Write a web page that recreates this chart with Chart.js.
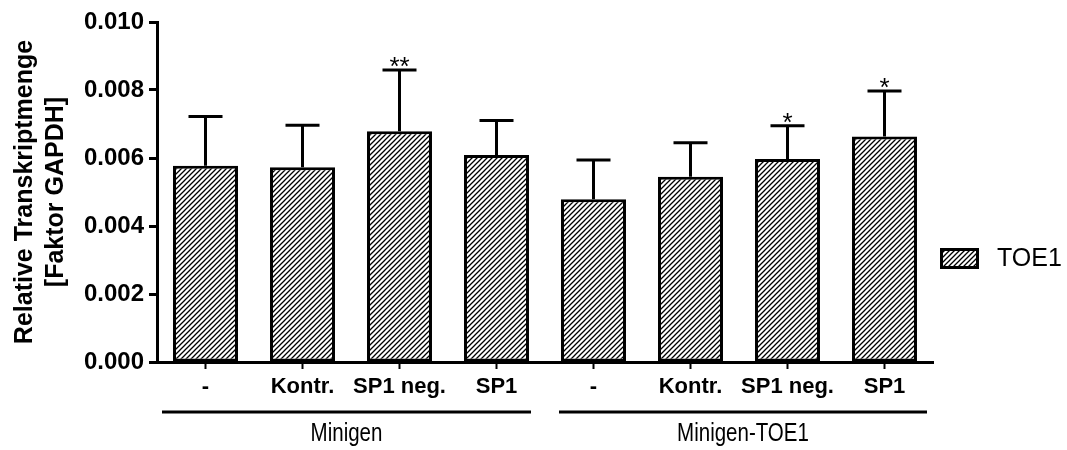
<!DOCTYPE html>
<html>
<head>
<meta charset="utf-8">
<script src="https://cdn.jsdelivr.net/npm/chart.js@4"></script>
<style>
  html, body { margin: 0; padding: 0; background: #fff; }
</style>
</head>
<body>
<canvas id="chart" width="1067" height="450"></canvas>
<script>
const categories = ['-', 'Kontr.', 'SP1 neg.', 'SP1', '-', 'Kontr.', 'SP1 neg.', 'SP1'];
const groups = ['Minigen', 'Minigen-TOE1'];
const seriesName = 'TOE1';
const means = [0.00577, 0.00573, 0.00679, 0.00609, 0.00479, 0.00545, 0.00597, 0.00663];
const errors = [0.00145, 0.00123, 0.00180, 0.00101, 0.00115, 0.00100, 0.00098, 0.00134];
const stars = ['', '', '**', '', '', '', '*', '*'];

const FONT = "'Liberation Sans', Arial, sans-serif";

// diagonal hatching "/"
function hatch() {
  const s = 5;
  const c = document.createElement('canvas');
  c.width = s; c.height = s;
  const g = c.getContext('2d');
  g.fillStyle = '#fff';
  g.fillRect(0, 0, s, s);
  g.strokeStyle = '#000';
  g.lineWidth = 1.3;
  g.beginPath();
  g.moveTo(0, s); g.lineTo(s, 0);
  g.moveTo(-1, 1); g.lineTo(1, -1);
  g.moveTo(s - 1, s + 1); g.lineTo(s + 1, s - 1);
  g.stroke();
  return g.createPattern(c, 'repeat');
}

const ctx0 = document.getElementById('chart').getContext('2d');
const pattern = hatch();

const extras = {
  id: 'extras',
  afterDatasetsDraw(chart) {
    const { ctx, scales: { y } } = chart;
    const meta = chart.getDatasetMeta(0);
    ctx.save();
    ctx.strokeStyle = '#000';
    ctx.fillStyle = '#000';
    ctx.lineWidth = 3;
    meta.data.forEach((bar, i) => {
      const top = y.getPixelForValue(means[i] + errors[i]);
      ctx.beginPath();
      ctx.moveTo(bar.x, bar.y);
      ctx.lineTo(bar.x, top);
      ctx.moveTo(bar.x - 17, top);
      ctx.lineTo(bar.x + 17, top);
      ctx.stroke();
      if (stars[i]) {
        ctx.font = '26px ' + FONT;
        ctx.textAlign = 'center';
        ctx.textBaseline = 'alphabetic';
        ctx.fillText(stars[i], bar.x, top + 5);
      }
    });
    ctx.restore();
  },
  afterDraw(chart) {
    const { ctx, scales: { x }, chartArea } = chart;
    const w = x.width / categories.length;
    const per = categories.length / groups.length;
    ctx.save();
    ctx.strokeStyle = '#000';
    ctx.fillStyle = '#000';
    ctx.lineWidth = 3;
    groups.forEach((name, g) => {
      const catL = x.getPixelForValue(g * per) - w / 2;
      const catR = x.getPixelForValue(g * per + per - 1) + w / 2;
      const l = g === 0 ? catL + 5 : catL + 14;
      const r = g === groups.length - 1 ? catR - 6 : catR - 14;
      ctx.beginPath();
      ctx.moveTo(l, 412);
      ctx.lineTo(r, 412);
      ctx.stroke();
      // condensed regular label
      ctx.save();
      ctx.translate((l + r) / 2, 434);
      ctx.scale(0.82, 1);
      ctx.font = '25px ' + FONT;
      ctx.textAlign = 'center';
      ctx.textBaseline = 'middle';
      ctx.fillText(name, 0, 0);
      ctx.restore();
    });
    // legend
    const lx = chartArea.right + 7, ly = 248;
    ctx.fillStyle = pattern;
    ctx.fillRect(lx, ly, 39, 21);
    ctx.lineWidth = 3;
    ctx.strokeRect(lx + 1.5, ly + 1.5, 36, 18);
    ctx.fillStyle = '#000';
    ctx.font = '25px ' + FONT;
    ctx.textAlign = 'left';
    ctx.textBaseline = 'middle';
    ctx.fillText(seriesName, lx + 57, ly + 11);
    ctx.restore();
  }
};

new Chart(ctx0, {
  type: 'bar',
  data: {
    labels: categories,
    datasets: [{
      label: seriesName,
      data: means,
      backgroundColor: pattern,
      borderColor: '#000',
      borderWidth: 3,
      borderSkipped: false,
      barPercentage: 0.67,
      categoryPercentage: 1.0,
    }],
  },
  options: {
    responsive: false,
    animation: false,
    layout: { padding: { top: 22, right: 134, bottom: 0, left: 0 } },
    plugins: {
      legend: { display: false },
      tooltip: { enabled: false },
    },
    scales: {
      x: {
        afterFit: (s) => { s.height = 88; },
        grid: {
          display: true,
          drawOnChartArea: false,
          offset: false,
          tickLength: 7,
          tickWidth: 2,
          tickColor: '#000',
        },
        border: { display: true, width: 3, color: '#000' },
        ticks: {
          color: '#000',
          padding: 5,
          maxRotation: 0,
          autoSkip: false,
          font: { family: FONT, size: 22, weight: 'bold' },
        },
      },
      y: {
        min: 0,
        max: 0.010,
        afterFit: (s) => { s.width = 157; },
        grid: {
          drawOnChartArea: false,
          tickLength: 8,
          tickWidth: 3,
          tickColor: '#000',
        },
        border: { display: true, width: 3, color: '#000' },
        ticks: {
          stepSize: 0.002,
          color: '#000',
          padding: 5,
          font: { family: FONT, size: 24, weight: 'bold' },
          callback: (v) => v.toFixed(3),
        },
        title: {
          display: true,
          text: ['Relative Transkriptmenge', '[Faktor GAPDH]'],
          color: '#000',
          padding: { top: 9, bottom: 0 },
          font: { family: FONT, size: 25, weight: 'bold', lineHeight: 1.25 },
        },
      },
    },
  },
  plugins: [extras],
});
</script>
</body>
</html>
